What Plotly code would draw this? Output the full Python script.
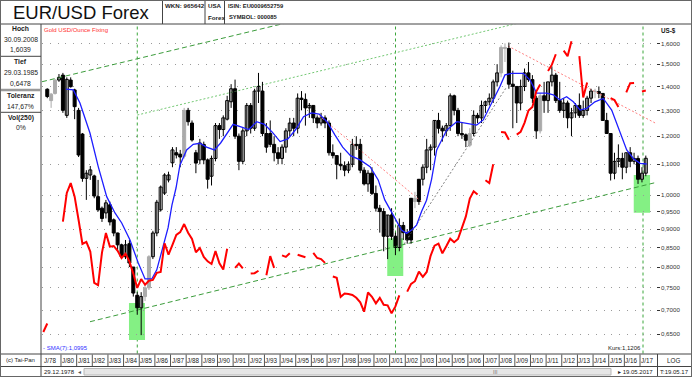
import plotly.graph_objects as go
from datetime import datetime, timedelta

W, H = 692, 377

# ---------------- data ----------------
# quarterly candles, 1978Q4 .. 2017Q2
opens = [1.393,
 1.388,1.340,1.370,1.428, 1.450,1.280,1.428,1.385, 1.300,1.208,1.053,1.064, 1.061,0.995,0.960,0.946,
 0.970,0.926,0.889,0.857, 0.826,0.860,0.800,0.733, 0.705,0.730,0.750,0.826, 0.889,0.955,1.006,1.048,
 1.105,1.140,1.135,1.128, 1.300,1.250,1.140,1.115, 1.170,1.115,1.060,1.120, 1.240,1.225,1.265,1.335,
 1.390,1.200,1.110,1.220, 1.320,1.230,1.380,1.380, 1.210,1.210,1.170,1.140, 1.120,1.160,1.220,1.250,
 1.230,1.350,1.345,1.310, 1.320,1.270,1.250,1.270, 1.250,1.140,1.130,1.100, 1.095,1.080,1.100,1.170,
 1.170,1.080,1.035,1.070, 1.005,0.960,0.950,0.880, 0.940,0.880,0.850,0.910, 0.890,0.870,0.990,0.980,
 1.050,1.090,1.150,1.160, 1.260,1.230,1.220,1.240, 1.360,1.300,1.210,1.205, 1.167,1.210,1.280,1.270,
 1.320,1.335,1.350,1.420, 1.460,1.580,1.575,1.410, 1.400,1.330,1.400,1.460, 1.430,1.350,1.220,1.360,
 1.340,1.420,1.450,1.340, 1.300,1.330,1.270,1.290, 1.320,1.280,1.300,1.350, 1.380,1.378,1.370,1.260,
 1.210,1.070,1.110,1.120, 1.090,1.140,1.110,1.120, 1.050,1.070]
highs = [1.393,
 1.392,1.372,1.432,1.455, 1.460,1.440,1.440,1.390, 1.310,1.212,1.080,1.094, 1.065,1.048,0.965,0.985,
 0.980,0.930,0.890,0.860, 0.870,0.870,0.800,0.740, 0.740,0.760,0.830,0.895, 0.985,1.030,1.070,1.075,
 1.160,1.160,1.150,1.310, 1.310,1.260,1.150,1.190, 1.180,1.120,1.130,1.250, 1.250,1.280,1.360,1.410,
 1.430,1.210,1.230,1.330, 1.330,1.390,1.460,1.420, 1.250,1.260,1.200,1.160, 1.170,1.230,1.270,1.270,
 1.370,1.380,1.370,1.330, 1.320,1.280,1.290,1.280, 1.260,1.170,1.130,1.140, 1.110,1.110,1.190,1.200,
 1.190,1.090,1.080,1.090, 1.030,0.970,0.960,0.940, 0.960,0.890,0.930,0.920, 0.900,0.990,1.010,1.050,
 1.100,1.190,1.170,1.260, 1.290,1.240,1.250,1.370, 1.365,1.310,1.250,1.210, 1.230,1.300,1.290,1.340,
 1.340,1.370,1.430,1.500, 1.590,1.600,1.6039,1.470, 1.400,1.430,1.480,1.510, 1.450,1.360,1.370,1.420,
 1.420,1.490,1.460,1.420, 1.350,1.340,1.310,1.330, 1.370,1.340,1.360,1.390, 1.390,1.400,1.370,1.290,
 1.210,1.140,1.170,1.140, 1.140,1.160,1.140,1.130, 1.090,1.130]
lows = [1.393,
 1.350,1.310,1.365,1.420, 1.290,1.270,1.395,1.265, 1.125,1.042,0.985,1.048, 0.990,0.950,0.920,0.930,
 0.910,0.880,0.840,0.820, 0.820,0.800,0.730,0.690, 0.6478,0.720,0.745,0.820, 0.880,0.950,1.000,1.040,
 1.090,1.120,1.090,1.120, 1.240,1.180,1.070,1.100, 1.100,1.020,1.030,1.110, 1.190,1.200,1.260,1.310,
 1.190,1.080,1.100,1.200, 1.210,1.220,1.330,1.200, 1.140,1.160,1.110,1.100, 1.100,1.140,1.200,1.200,
 1.210,1.300,1.240,1.270, 1.250,1.230,1.240,1.230, 1.130,1.120,1.050,1.080, 1.060,1.070,1.090,1.150,
 1.070,1.030,1.010,1.000, 0.950,0.890,0.840,0.820, 0.870,0.830,0.840,0.870, 0.860,0.860,0.960,0.970,
 1.030,1.070,1.080,1.130, 1.210,1.180,1.200,1.220, 1.280,1.200,1.190,1.160, 1.160,1.200,1.250,1.250,
 1.290,1.320,1.330,1.400, 1.440,1.510,1.390,1.230, 1.250,1.300,1.380,1.420, 1.330,1.190,1.210,1.290,
 1.290,1.400,1.330,1.290, 1.270,1.230,1.200,1.270, 1.270,1.270,1.280,1.330, 1.350,1.350,1.260,1.210,
 1.046,1.050,1.090,1.050, 1.070,1.090,1.100,1.035, 1.040,1.060]
closes = [1.393,
 1.357,1.367,1.428,1.440, 1.300,1.431,1.399,1.315, 1.132,1.053,1.070,1.081, 0.997,0.955,0.930,0.976,
 0.920,0.889,0.857,0.826, 0.857,0.810,0.738,0.705, 0.730,0.750,0.826,0.889, 0.978,1.025,1.064,1.064,
 1.150,1.132,1.125,1.300, 1.255,1.186,1.104,1.175, 1.115,1.050,1.120,1.240, 1.225,1.270,1.340,1.390,
 1.200,1.110,1.220,1.320, 1.230,1.380,1.400,1.210, 1.160,1.170,1.140,1.120, 1.160,1.220,1.250,1.230,
 1.350,1.345,1.310,1.320, 1.270,1.250,1.270,1.250, 1.140,1.130,1.100,1.095, 1.080,1.100,1.170,1.165,
 1.080,1.035,1.070,1.005, 0.960,0.950,0.880,0.940, 0.880,0.850,0.910,0.890, 0.870,0.990,0.980,1.050,
 1.090,1.150,1.160,1.260, 1.230,1.220,1.240,1.360, 1.300,1.210,1.205,1.185, 1.210,1.280,1.270,1.320,
 1.335,1.350,1.420,1.460, 1.580,1.575,1.410,1.400, 1.330,1.400,1.460,1.430, 1.350,1.220,1.360,1.340,
 1.420,1.450,1.340,1.300, 1.330,1.270,1.290,1.320, 1.280,1.300,1.350,1.380, 1.378,1.370,1.260,1.210,
 1.070,1.110,1.120,1.090, 1.140,1.110,1.120,1.050, 1.070,1.1206]
# candle colour: w = hollow, b = black, g = grey
candle_col = ("b"
 "bggw" "bwbb" "bbww" "bbbw"
 "bbbb" "wbbb" "wggw" "wwww"
 "wbbg" "bbbw" "bbww" "bwww"
 "bbww" "bwwb" "bbbb" "wwwb"
 "wbbw" "bbwb" "bbbb" "bwwb"
 "bbwb" "bbbw" "bbwb" "bbgb"
 "wwww" "bbww" "bbbb" "gwbw"
 "wwww" "ggbb" "bwwb" "bbgb"
 "wwbb" "wbww" "bwww" "gbbb"
 "bwwb" "wbwb" "ww")

# Gold USD/ounce fixing, quarterly (None = no fixing on that quarter end)
gold = [226,
 240,None,None,None, 494,606,650,590, 500,422,428,400, 320,315,397,456,
 414,416,402,382, 394,373,342,309, 329,316,325,327, 344,346,424,391,
 419,450,459,486, 457,437,398,410, 385,373,366,401, 368,352,408,None,
 356,367,355,None, 342,343,349,None, 338,387,356,None, 389,385,395,None,
 391,387,384,None, 396,382,379,369, None,335,332,290, 297,296,294,288,
 279,261,299,290, 277,288,274,273, 258,271,293,None, 301,318,324,347,
 334,346,388,417, 423,395,415,438, 427,437,473,513, 582,613,599,None,
 663,650,743,None, 933,930,884,None, 916,934,996,1087, 1115,1244,1307,None,
 1439,1505,1620,None, 1662,1598,1776,None, 1598,1192,1326,None, None,None,None,None,
 1187,1171,1114,None, 1237,1320,1322,None, 1244,1253]

# SMA(7) line (decimal year, value)
sma_t = [1980.32,1980.79,1981.21,1981.85,1982.38,1982.92,1983.45,1983.88,1984.41,1984.94,
 1985.37,1985.80,1986.12,1986.54,1986.84,1987.09,1987.35,1987.60,1988.03,1988.45,1988.88,
 1989.3,1989.8,1990.2,1990.6,1991.0,1991.5,1992.0,1992.5,1993.0,1993.5,1994.0,1994.5,1995.0,
 1995.5,1996.0,1996.5,1997.0,1997.5,1998.0,1998.5,1999.11,1999.75,2000.27,2000.69,2001.12,
 2001.44,2001.76,2002.08,2002.40,2002.72,2003.04,2003.36,2003.68,2004.01,2004.65,2005.29,
 2005.92,2006.56,2006.98,2007.41,2008.05,2008.37,2008.80,2009.54,2009.97,2010.40,2011.04,
 2011.46,2011.89,2012.31,2012.74,2013.17,2013.59,2014.12,2014.65,2015.19,2015.72,2016.15,
 2016.57,2017.0,2017.43]
sma_v = [1.388,1.385,1.330,1.212,1.092,0.995,0.946,0.917,0.870,0.810,
 0.771,0.771,0.793,0.852,0.903,0.969,1.022,1.097,1.150,1.170,1.174,
 1.160,1.150,1.175,1.210,1.245,1.235,1.225,1.255,1.245,1.215,1.180,1.190,1.225,
 1.275,1.290,1.285,1.255,1.205,1.160,1.130,1.115,1.092,1.048,0.985,0.950,
 0.925,0.897,0.888,0.897,0.911,0.950,0.984,1.050,1.150,1.223,1.255,
 1.249,1.242,1.262,1.315,1.400,1.451,1.458,1.458,1.428,1.371,1.371,
 1.364,1.342,1.356,1.335,1.301,1.308,1.335,1.349,1.301,1.211,1.150,
 1.120,1.103,1.101]

# trend lines (decimal year, value)
trend_upper = ([1978.786, 1994.63], [1.4206, 1.7094])
trend_upper2 = ([1984.876, 2009.30], [1.2813, 1.7050])
trend_lower = ([1981.853, 2018.002], [0.6753, 1.0395])
trend_red1 = ([1996.295, 2003.068], [1.2893, 0.9785])
trend_red2 = ([2008.564, 2018.002], [1.5868, 1.2490])
trend_grey = ([2001.918, 2008.436], [0.8591, 1.3932])
marker_years = [1984.876, 2001.375, 2017.19]
green_boxes = [(1984.345, 1985.368, 0.638, 0.7156),
               (2000.85, 2001.87, 0.7782, 0.8744),
               (2016.60, 2017.64, 0.9466, 1.0639)]

y_ticks = [0.65, 0.70, 0.75, 0.80, 0.85, 0.90, 0.95, 1.00, 1.10, 1.20, 1.30, 1.40, 1.50, 1.60]
y_tick_text = ["0,6500", "0,7000", "0,7500", "0,8000", "0,8500", "0,9000", "0,9500", "1,0000",
               "1,1000", "1,2000", "1,3000", "1,4000", "1,5000", "1,6000"]
year_labels = list(range(1980, 2018))

# ---------------- helpers ----------------
def t2d(t):
    y = int(t)
    return datetime(y, 1, 1) + timedelta(days=(t - y) * 365.25)

qmid = {1: (2, 15), 2: (5, 16), 3: (8, 15), 4: (11, 15)}
dates = []
yy, qq = 1978, 4
for i in range(len(closes)):
    m, d = qmid[qq]
    dates.append(datetime(yy, m, d))
    qq += 1
    if qq > 4:
        qq = 1
        yy += 1

def X(px): return px / W
def Y(py): return 1 - py / H

PLOT_L, PLOT_R, PLOT_T, PLOT_B = 42, 655.7, 24.5, 353.5
FS = "Liberation Sans, Arial, sans-serif"
BODY_MS = 70 * 86400000  # candle body width on the date axis

fig = go.Figure()

shapes = []
for x0, x1, y0, y1 in green_boxes:
    shapes.append(dict(type="rect", xref="x", yref="y", x0=t2d(x0), x1=t2d(x1), y0=y0, y1=y1,
                       fillcolor="#84f084", line=dict(width=0), layer="below"))
for t in marker_years:
    shapes.append(dict(type="line", xref="x", yref="paper", x0=t2d(t), x1=t2d(t),
                       y0=Y(PLOT_B), y1=Y(PLOT_T), line=dict(color="#3aa63a", width=1, dash="3px,3px"),
                       layer="below"))

def add_line(tr, color, dash, width=1):
    fig.add_trace(go.Scatter(x=[t2d(t) for t in tr[0]], y=tr[1], mode="lines",
                             line=dict(color=color, width=width, dash=dash), hoverinfo="skip"))

add_line(trend_upper, "#3c9c3c", "5px,3px")
add_line(trend_upper2, "#74c874", "2px,2px")
add_line(trend_lower, "#3c9c3c", "5px,3px")
add_line(trend_red1, "#ff8080", "2px,2px")
add_line(trend_red2, "#ff8080", "2px,2px")
add_line(trend_grey, "#808080", "2px,2px")

# candles: wicks (scatter) + bodies (bars)
styles = {"w": ("#000000", "#ffffff"), "b": ("#000000", "#000000"), "g": ("#ababab", "#ababab")}
for key, (lc, fc) in styles.items():
    idx = [i for i, c in enumerate(candle_col) if c == key and highs[i] > lows[i]]
    wx, wy = [], []
    for i in idx:
        wx += [dates[i], dates[i], None]
        wy += [lows[i], highs[i], None]
    fig.add_trace(go.Scatter(x=wx, y=wy, mode="lines", line=dict(color=lc, width=1), hoverinfo="skip"))
    base = [min(opens[i], closes[i]) for i in idx]
    length = [max(abs(closes[i] - opens[i]), 0.002) for i in idx]
    fig.add_trace(go.Bar(x=[dates[i] for i in idx], y=length, base=base, width=BODY_MS,
                         marker=dict(color=fc, line=dict(color=lc, width=1)), hoverinfo="skip"))

# SMA
fig.add_trace(go.Scatter(x=[t2d(t) for t in sma_t], y=sma_v, mode="lines",
                         line=dict(color="#1e1eff", width=1.3), hoverinfo="skip"))
# gold on hidden axis
fig.add_trace(go.Scatter(x=dates, y=gold, mode="lines", yaxis="y2", connectgaps=False,
                         line=dict(color="#ff0000", width=2), hoverinfo="skip"))

# ---- frame ----
def pline(x0, y0, x1, y1, color="#444", width=1):
    shapes.append(dict(type="line", xref="paper", yref="paper", x0=X(x0), y0=Y(y0), x1=X(x1), y1=Y(y1),
                       line=dict(color=color, width=width)))

pline(0, 24, W, 24)
pline(0, 354, W, 354)
pline(0, 366.5, W, 366.5)
pline(41, 24, 41, H)
pline(162.5, 0, 162.5, 24)
pline(205, 0, 205, 24)
pline(224.5, 0, 224.5, 24)
pline(657.5, 354, 657.5, H)
pline(0, 56.3, 41, 56.3)
pline(0, 90, 41, 90, "#999", 2.5)
pline(0, 112.3, 41, 112.3)
shapes.append(dict(type="rect", xref="paper", yref="paper", x0=0, y0=0, x1=1, y1=1,
                   line=dict(color="#666", width=2)))
for yr in year_labels:
    shapes.append(dict(type="line", xref="x", yref="paper", x0=datetime(yr, 1, 1), x1=datetime(yr, 1, 1),
                       y0=Y(366), y1=Y(354.5), line=dict(color="#555", width=1)))
shapes.append(dict(type="rect", xref="paper", yref="paper", x0=X(84), x1=X(611), y0=Y(375), y1=Y(368.5),
                   fillcolor="#e6e6e6", line=dict(color="#b8b8b8", width=1)))

ann = []
def txt(s, x, y, size=6, color="#222", xanchor="left", bold=False):
    if bold:
        s = "<b>" + s + "</b>"
    ann.append(dict(text=s, x=X(x), y=Y(y), xref="paper", yref="paper", showarrow=False,
                    xanchor=xanchor, yanchor="middle", borderpad=0,
                    font=dict(size=size, color=color, family=FS)))

txt("EUR/USD Forex", 81, 12.5, size=18.5, color="#111", xanchor="center")
txt("WKN: 965642", 163.5, 6, size=6.2, bold=True)
txt("USA", 206.5, 6, size=6.2, bold=True)
txt("Forex", 206.5, 17, size=6.2, bold=True)
txt("ISIN: EU0009652759", 226.5, 6, size=5.8, bold=True)
txt("SYMBOL: 000085", 227.5, 17, size=5.8, bold=True)

for s, yy_, b in [("Hoch", 29, True), ("30.09.2008", 39.5, False), ("1,6039", 49.5, False),
                  ("Tief", 62, True), ("29.03.1985", 72.5, False), ("0,6478", 83.5, False),
                  ("Toleranz", 95.5, True), ("147,67%", 106, False),
                  ("Vol(250)", 117.5, True), ("0%", 128, False)]:
    txt(s, 20.5, yy_, size=6.8, xanchor="center", bold=b)

txt("Gold USD/Ounce Fixing", 42.5, 29.5, size=6, color="#ff3030")
txt("- SMA(7):1,0995", 42, 348, size=6, color="#3030ff")
txt("Kurs:1,1206", 642, 348, size=6, color="#222", xanchor="right")
txt("US-$", 659.5, 31, size=6.3, bold=True)
txt("(c) Tai-Pan", 20.5, 360, size=6, xanchor="center")
txt("LOG", 673.5, 360, size=6.3, xanchor="center")
txt("29.12.1978", 43, 371.5, size=6)
txt("\u25c2", 76.5, 371.5, size=6, color="#555")
txt("III", 495, 371.5, size=5.5, color="#777", xanchor="center")
txt("\u25b8 19.05.2017", 617, 371.5, size=6)
txt("T:19.05.17", 674, 371.5, size=6, xanchor="center")
txt("J/78", 42.5, 360, size=6.3)
for yr in year_labels:
    ann.append(dict(text="J/%02d" % (yr % 100), x=datetime(yr, 1, 1), y=Y(360), xref="x", yref="paper",
                    showarrow=False, xanchor="left", yanchor="middle", borderpad=0,
                    font=dict(size=6.3, color="#222", family=FS)))

fig.update_layout(
    width=W, height=H, margin=dict(l=0, r=0, t=0, b=0),
    paper_bgcolor="white", plot_bgcolor="white", showlegend=False, barmode="overlay",
    xaxis=dict(type="date", domain=[X(PLOT_L), X(PLOT_R)], range=[t2d(1978.786), t2d(2018.002)],
               showgrid=False, showticklabels=False, zeroline=False, showline=False, ticks="",
               fixedrange=True),
    yaxis=dict(type="log", domain=[Y(PLOT_B), Y(PLOT_T)], range=[-0.21327, 0.22949], side="right",
               tickvals=y_ticks, ticktext=y_tick_text, ticks="outside", ticklen=3, tickcolor="#333",
               tickfont=dict(size=6.2, color="#333", family=FS), showgrid=True, gridcolor="#9a9a9a",
               griddash="1px,6.8px", gridwidth=1, zeroline=False, showline=False, fixedrange=True),
    yaxis2=dict(type="log", overlaying="y", range=[2.2879, 3.3012], visible=False, fixedrange=True),
    shapes=shapes, annotations=ann,
)

fig.write_html("out.html")
